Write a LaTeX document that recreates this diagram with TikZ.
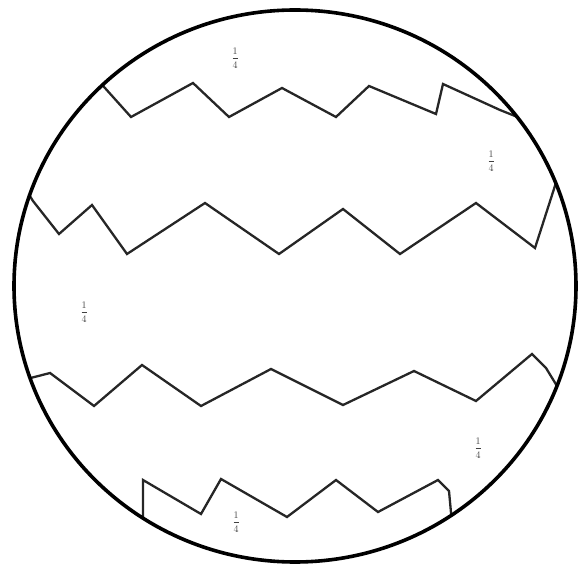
\documentclass[tikz,border=0pt]{standalone}
\begin{document}
\begin{tikzpicture}[x=1pt,y=-1pt,
  rim/.style={line width=3.6pt,black},
  zig/.style={line width=2.3pt,black!85,line join=miter},
  lab/.style={font=\fontsize{10}{10}\selectfont,inner sep=0pt,text=black!75}]
\useasboundingbox (0,0) rectangle (579,564);
\begin{scope}
\clip (295,286) ellipse [x radius=281, y radius=276];
\draw[zig] (96,78) -- (131,117) -- (193,83) -- (229,117) -- (282,88) -- (336,117) -- (369,86) -- (436,114) -- (443,84) -- (500,110) -- (520,118);
\draw[zig] (20,180) -- (33,201) -- (59,234) -- (92,205) -- (127,254) -- (205,203) -- (279,254) -- (343,209) -- (400,254) -- (476,203) -- (535,248) -- (562,164);
\draw[zig] (15,382) -- (50,373) -- (94,406) -- (142,365) -- (201,406) -- (271,369) -- (343,405) -- (414,371) -- (476,401) -- (532,354) -- (546,368) -- (568,404);
\draw[zig] (143,540) -- (143,480) -- (201,514) -- (221,479) -- (287,517) -- (336,480) -- (378,512) -- (438,480) -- (449,491) -- (454,545);
\end{scope}
\draw[rim] (295,286) ellipse [x radius=281, y radius=276];
\node[lab] (l1) at (235,58) {$\displaystyle\frac{1}{4}$};
\node[lab] (l2) at (491,161) {$\displaystyle\frac{1}{4}$};
\node[lab] (l3) at (84,312) {$\displaystyle\frac{1}{4}$};
\node[lab] (l4) at (478,448) {$\displaystyle\frac{1}{4}$};
\node[lab] (l5) at (236,522) {$\displaystyle\frac{1}{4}$};
\end{tikzpicture}
\end{document}
